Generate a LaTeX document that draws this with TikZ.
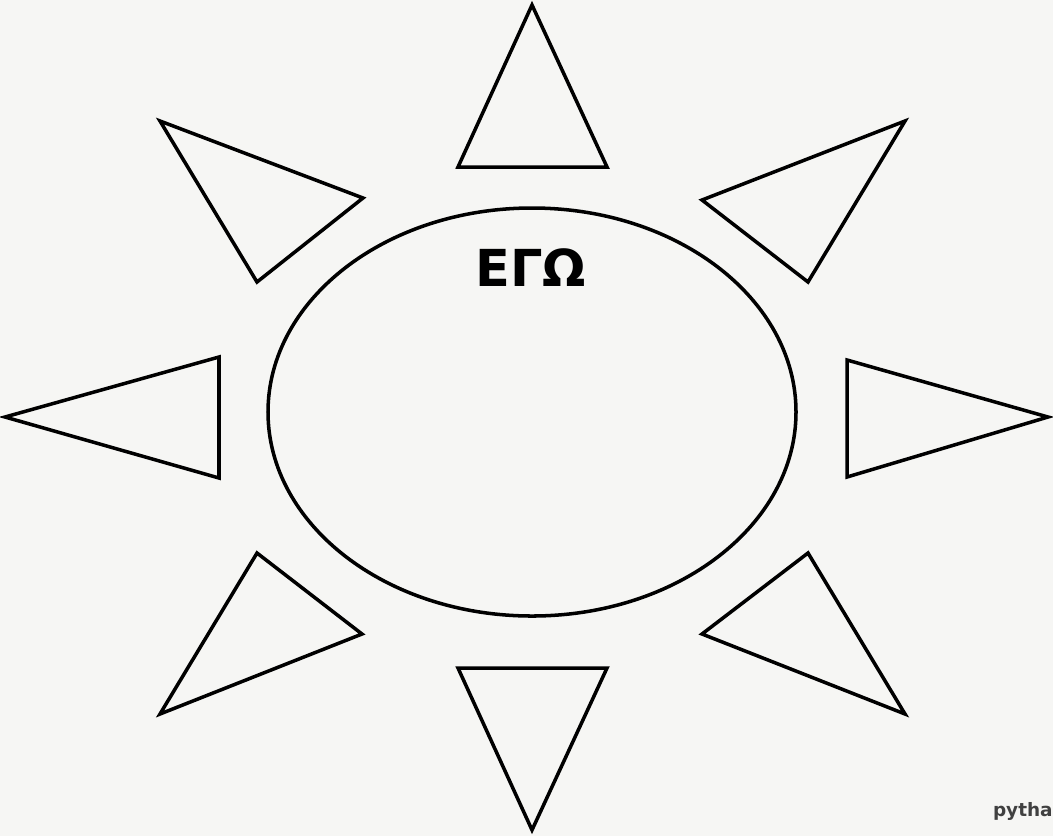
\documentclass[tikz,border=0pt]{standalone}
\usepackage{fontspec}
\newfontfamily\greekfont{DejaVu Sans}
\setsansfont{DejaVu Sans}
\usetikzlibrary{calc}
\definecolor{bgcol}{RGB}{246,246,244}
\tikzset{
  rayline/.style={draw, line width=2pt, line join=miter},
  sunline/.style={draw, line width=2pt},
  titletext/.style={font=\greekfont\bfseries\fontsize{29}{32}\selectfont},
  marktext/.style={font=\sffamily\bfseries\fontsize{10.5}{12}\selectfont, text=black!75},
}

\begin{document}
\begin{tikzpicture}[x=0.02cm, y=-0.02cm]
  % page
  \fill[bgcol] (0,0) rectangle (1053,836);
  \useasboundingbox (0,0) rectangle (1053,836);

  % sun body
  \draw[sunline] (532,412) ellipse [x radius=264, y radius=204];
  \node[titletext] (ego) at (531,268) {ΕΓΩ};

  % rays
  \draw[rayline] (532,5) -- (458,167) -- (607,167) -- cycle;
  \draw[rayline] (160,121) -- (363,198) -- (257,282) -- cycle;
  \draw[rayline] (905,121) -- (702,200) -- (808,282) -- cycle;
  \draw[rayline] (5,417) -- (219,357) -- (219,478) -- cycle;
  \draw[rayline] (1048,417) -- (847,360) -- (847,477) -- cycle;
  \draw[rayline] (257,553) -- (362,634) -- (160,714) -- cycle;
  \draw[rayline] (808,553) -- (702,634) -- (905,714) -- cycle;
  \draw[rayline] (458,668) -- (607,668) -- (532,830) -- cycle;

  \node[marktext, anchor=east, inner sep=0pt] (mark) at (1053,811) {pytha};
\end{tikzpicture}
\end{document}
